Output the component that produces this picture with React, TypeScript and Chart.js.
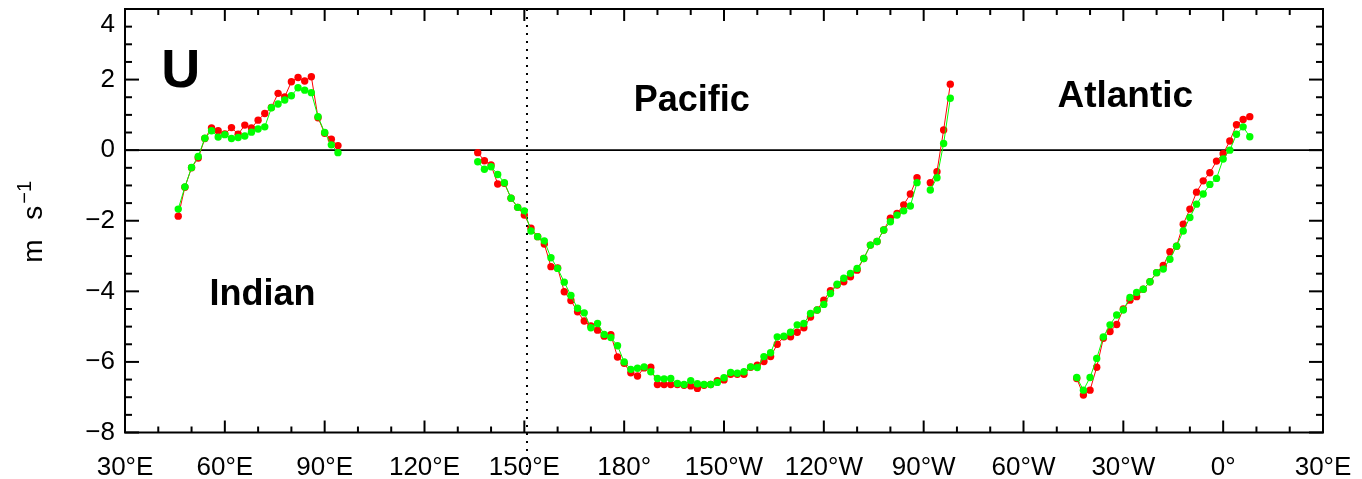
import React, { useEffect, useRef } from 'react';
import { Chart, registerables } from 'chart.js';

Chart.register(...registerables);

// Longitudes in degrees east (30..390 wraps once around the globe)
const lonIndian = [46, 48, 50, 52, 54, 56, 58, 60, 62, 64, 66, 68, 70, 72, 74, 76, 78, 80, 82, 84, 86, 88, 90, 92, 94];
const redIndian = [-1.87, -1.05, -0.5, -0.22, 0.33, 0.63, 0.55, 0.46, 0.64, 0.45, 0.71, 0.63, 0.85, 1.04, 1.21, 1.61, 1.51, 1.94, 2.06, 1.96, 2.08, 0.92, 0.48, 0.31, 0.13];
const greenIndian = [-1.67, -1.04, -0.49, -0.18, 0.34, 0.55, 0.37, 0.44, 0.33, 0.36, 0.4, 0.51, 0.6, 0.66, 1.2, 1.31, 1.42, 1.54, 1.77, 1.7, 1.63, 0.95, 0.5, 0.15, -0.07];

const lonPacific = [136, 138, 140, 142, 144, 146, 148, 150, 152, 154, 156, 158, 160, 162, 164, 166, 168, 170, 172, 174, 176, 178, 180, 182, 184, 186, 188, 190, 192, 194, 196, 198, 200, 202, 204, 206, 208, 210, 212, 214, 216, 218, 220, 222, 224, 226, 228, 230, 232, 234, 236, 238, 240, 242, 244, 246, 248, 250, 252, 254, 256, 258, 260, 262, 264, 266, 268, 270, 272, 274, 276, 278];
const redPacific = [-0.07, -0.3, -0.42, -0.96, -0.94, -1.36, -1.62, -1.84, -2.21, -2.45, -2.66, -3.3, -3.34, -4.01, -4.26, -4.58, -4.84, -4.98, -5.1, -5.27, -5.23, -5.86, -6.04, -6.31, -6.4, -6.17, -6.15, -6.64, -6.64, -6.64, -6.64, -6.66, -6.68, -6.75, -6.66, -6.64, -6.53, -6.51, -6.35, -6.35, -6.35, -6.15, -6.09, -5.99, -5.85, -5.5, -5.29, -5.29, -5.16, -5.03, -4.73, -4.53, -4.25, -3.98, -3.82, -3.73, -3.59, -3.4, -3.07, -2.69, -2.59, -2.26, -1.93, -1.79, -1.55, -1.24, -0.78, null, -0.92, -0.61, 0.57, 1.87];
const greenPacific = [-0.33, -0.54, -0.47, -0.69, -0.92, -1.36, -1.62, -1.72, -2.29, -2.45, -2.57, -3.05, -3.35, -3.74, -4.12, -4.48, -4.61, -5.03, -4.91, -5.22, -5.31, -5.54, -6.0, -6.21, -6.18, -6.14, -6.28, -6.47, -6.48, -6.47, -6.61, -6.64, -6.53, -6.62, -6.64, -6.64, -6.58, -6.45, -6.3, -6.32, -6.28, -6.14, -6.16, -5.85, -5.74, -5.29, -5.27, -5.16, -4.95, -4.91, -4.63, -4.53, -4.37, -4.06, -3.8, -3.63, -3.49, -3.35, -3.07, -2.69, -2.59, -2.26, -2.03, -1.84, -1.72, -1.58, -0.92, null, -1.13, -0.78, 0.19, 1.47];

const lonAtlantic = [316, 318, 320, 322, 324, 326, 328, 330, 332, 334, 336, 338, 340, 342, 344, 346, 348, 350, 352, 354, 356, 358, 360, 362, 364, 366, 368];
const redAtlantic = [-6.47, -6.94, -6.8, -6.15, -5.33, -5.14, -4.94, -4.5, -4.25, -4.15, -3.94, -3.73, -3.47, -3.27, -2.88, -2.72, -2.1, -1.67, -1.19, -0.87, -0.64, -0.31, -0.1, 0.26, 0.72, 0.87, 0.95];
const greenAtlantic = [-6.44, -6.8, -6.44, -5.9, -5.29, -4.95, -4.67, -4.53, -4.17, -4.03, -3.94, -3.73, -3.47, -3.37, -3.09, -2.72, -2.29, -1.91, -1.53, -1.24, -0.97, -0.8, -0.25, 0.0, 0.45, 0.66, 0.38];

const xTickLabels = ['30°E', '60°E', '90°E', '120°E', '150°E', '180°', '150°W', '120°W', '90°W', '60°W', '30°W', '0°', '30°E'];
const xMin = 30;
const xMax = 390;
const yMin = -8;
const yMax = 4;
const dividerLon = 150.8;

const textLabels = [
  { text: 'U', lon: 40.9, val: 1.79, size: 54 },
  { text: 'Indian', lon: 55.4, val: -4.39, size: 36 },
  { text: 'Pacific', lon: 182.9, val: 1.11, size: 36 },
  { text: 'Atlantic', lon: 310.2, val: 1.22, size: 37 },
];

const RED = '#ff0000';
const GREEN = '#00ff00';
const FONT = 'Liberation Sans, Arial, Helvetica, sans-serif';

function pts(lons: number[], vals: (number | null)[]) {
  return lons.map((x, i) => ({ x, y: vals[i] }));
}

function series(label: string, lons: number[], vals: (number | null)[], color: string) {
  return {
    label,
    data: pts(lons, vals),
    borderColor: color,
    backgroundColor: color,
    borderWidth: 1,
    pointRadius: 3.7,
    pointBorderWidth: 0,
    pointBackgroundColor: color,
    pointHoverRadius: 3.7,
    tension: 0,
    spanGaps: false,
    clip: false as any,
  };
}

const decorPlugin = {
  id: 'decor',
  beforeDatasetsDraw(chart: any) {
    const { ctx, chartArea: a, scales } = chart;
    const x = scales.x;
    const y = scales.y;
    ctx.save();
    const y0 = y.getPixelForValue(0);
    ctx.strokeStyle = '#000';
    ctx.lineWidth = 1.8;
    ctx.beginPath();
    ctx.moveTo(a.left, y0);
    ctx.lineTo(a.right, y0);
    ctx.stroke();
    const xd = x.getPixelForValue(dividerLon);
    ctx.setLineDash([2, 6]);
    ctx.lineWidth = 2;
    ctx.beginPath();
    ctx.moveTo(xd, a.top);
    ctx.lineTo(xd, chart.height);
    ctx.stroke();
    ctx.restore();
  },
  afterDraw(chart: any) {
    const { ctx, chartArea: a, scales } = chart;
    const x = scales.x;
    const y = scales.y;
    ctx.save();
    ctx.strokeStyle = '#000';
    ctx.lineWidth = 2;
    ctx.strokeRect(a.left, a.top, a.right - a.left, a.bottom - a.top);
    const seg = (x1: number, y1: number, x2: number, y2: number) => {
      ctx.beginPath();
      ctx.moveTo(x1, y1);
      ctx.lineTo(x2, y2);
      ctx.stroke();
    };
    for (let v = xMin; v <= xMax; v += 10) {
      const px = x.getPixelForValue(v);
      const len = (v - xMin) % 30 === 0 ? 12 : 6;
      seg(px, a.bottom, px, a.bottom - len);
      seg(px, a.top, px, a.top + len);
    }
    for (let k = 0; k <= (yMax - yMin) * 2; k++) {
      const v = yMin + k * 0.5;
      const py = y.getPixelForValue(v);
      const len = k % 4 === 0 ? 14 : 7;
      seg(a.left, py, a.left + len, py);
      seg(a.right, py, a.right - len, py);
    }
    ctx.fillStyle = '#000';
    ctx.textAlign = 'left';
    ctx.textBaseline = 'alphabetic';
    for (const t of textLabels) {
      ctx.font = `bold ${t.size}px ${FONT}`;
      ctx.fillText(t.text, x.getPixelForValue(t.lon), y.getPixelForValue(t.val));
    }
    // y-axis title: "m s" with superscript "-1", rotated
    ctx.save();
    const midY = (a.top + a.bottom) / 2;
    ctx.translate(42, midY + 42);
    ctx.rotate(-Math.PI / 2);
    ctx.textBaseline = 'alphabetic';
    ctx.font = `28px ${FONT}`;
    ctx.fillText('m', 0, 0);
    ctx.fillText('s', 43, 0);
    ctx.font = `20px ${FONT}`;
    ctx.fillText('\u2212' + '1', 59, -11);
    ctx.restore();
    ctx.restore();
  },
};

export default function App() {
  const ref = useRef<HTMLCanvasElement | null>(null);
  useEffect(() => {
    if (!ref.current) return;
    const chart = new Chart(ref.current, {
      type: 'line',
      data: {
        datasets: [
          series('green Indian', lonIndian, greenIndian, GREEN),
          series('green Pacific', lonPacific, greenPacific, GREEN),
          series('green Atlantic', lonAtlantic, greenAtlantic, GREEN),
          series('red Indian', lonIndian, redIndian, RED),
          series('red Pacific', lonPacific, redPacific, RED),
          series('red Atlantic', lonAtlantic, redAtlantic, RED),
        ] as any,
      },
      options: {
        responsive: false,
        animation: false,
        events: [],
        layout: { padding: { left: 0, right: 39, top: 9, bottom: 0 } },
        plugins: {
          legend: { display: false },
          tooltip: { enabled: false },
        },
        scales: {
          x: {
            type: 'linear',
            min: xMin,
            max: xMax,
            grid: { display: false, drawTicks: false },
            border: { display: false },
            ticks: {
              stepSize: 30,
              autoSkip: false,
              maxRotation: 0,
              minRotation: 0,
              padding: 20,
              color: '#000',
              font: { family: FONT, size: 26 },
              callback: (v: any) => xTickLabels[Math.round((Number(v) - xMin) / 30)] ?? '',
            },
            afterFit: (s: any) => {
              s.height = 46.5;
              s.paddingLeft = 0;
              s.paddingRight = 0;
            },
          },
          y: {
            type: 'linear',
            min: yMin,
            max: yMax,
            grid: { display: false, drawTicks: false },
            border: { display: false },
            ticks: {
              stepSize: 2,
              padding: 10,
              color: '#000',
              font: { family: FONT, size: 26 },
              callback: (v: any) => {
                const n = Number(v);
                const s = n < 0 ? '\u2212' + Math.abs(n) : String(n);
                return n === yMax ? ['', s] : s;
              },
            },
            afterFit: (s: any) => {
              s.width = 125;
              s.paddingTop = 0;
              s.paddingBottom = 0;
            },
          },
        },
      } as any,
      plugins: [decorPlugin],
    });
    return () => chart.destroy();
  }, []);
  return (
    <div style={{ position: 'fixed', left: 0, top: 0, width: 1362, height: 479, background: '#fff' }}>
      <canvas ref={ref} width={1362} height={479} style={{ display: 'block' }} />
    </div>
  );
}
